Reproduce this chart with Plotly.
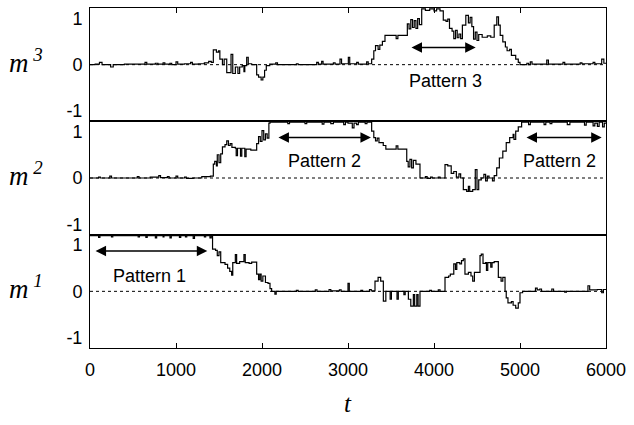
import plotly.graph_objects as go
from plotly.subplots import make_subplots

# ---------------- data ----------------
x_ticks = [0, 1000, 2000, 3000, 4000, 5000, 6000]
y_ticks = [-1, 0, 1]
y_ticklabels = ["-1", "0", "1"]
panel_names = ["m3", "m2", "m1"]
panel_labels = ["<i>m<sup> 3</sup></i>", "<i>m<sup> 2</sup></i>", "<i>m<sup> 1</sup></i>"]

m3_t = [0, 60, 110, 140, 240, 270, 400, 640, 660, 760, 790, 850, 870, 930, 950, 1000, 1020, 1100,
        1170, 1190, 1260, 1330, 1380, 1410, 1434, 1470, 1495, 1510, 1540, 1560, 1590, 1640, 1660,
        1690, 1720, 1740, 1770, 1790, 1800, 1822, 1840, 1880, 1938, 1960, 1990, 2010, 2030, 2050,
        2090, 2160, 2180, 2400, 2420, 2636, 2655, 2694, 2710, 2830, 2850, 2907, 2925, 3004, 3020,
        3101, 3120, 3217, 3235, 3275, 3300, 3320, 3350, 3370, 3400, 3430, 3560, 3580, 3663, 3690,
        3710, 3730, 3750, 3770, 3790, 3810, 3830, 3857, 3900, 3950, 4000, 4030, 4070, 4108, 4140,
        4160, 4180, 4210, 4230, 4250, 4270, 4290, 4310, 4330, 4370, 4400, 4420, 4440, 4460, 4480,
        4500, 4520, 4560, 4620, 4660, 4700, 4730, 4750, 4770, 4800, 4830, 4850, 4880, 4900, 4950,
        4980, 5000, 5080, 5100, 5120, 5140, 5311, 5330, 5500, 5520, 5700, 5720, 5850, 5870, 5950,
        5975, 6000]
m3_v = [0.0, 0.01, 0.05, 0.0, -0.05, 0.0, 0.01, 0.05, 0.01, 0.03, 0.01, 0.04, 0.01, 0.03, 0.0, 0.06, 0.01, 0.02,
        0.05, 0.01, 0.02, 0.04, 0.07, 0.05, 0.32, 0.27, 0.30, 0.12, 0.0, 0.12, -0.17, 0.22, -0.19,
        -0.05, -0.19, -0.05, -0.02, -0.15, -0.02, 0.16, 0.02, 0.0, -0.22, -0.27, -0.33, -0.27, -0.12, -0.02,
        0.01, 0.04, 0.0, 0.02, 0.0, 0.05, 0.01, 0.07, 0.01, 0.04, 0.01, 0.12, 0.02, 0.16, 0.02,
        0.05, 0.01, 0.06, 0.02, 0.12, 0.30, 0.41, 0.33, 0.42, 0.50, 0.63, 0.56, 0.63, 0.63, 0.88,
        0.77, 0.97, 0.80, 0.95, 0.78, 0.99, 0.86, 1.20, 1.17, 1.20, 1.16, 1.20, 1.16, 0.96, 0.93,
        0.98, 0.78, 0.72, 0.56, 0.74, 0.58, 0.66, 0.56, 0.85, 1.06, 0.90, 1.02, 0.82, 0.55, 0.70,
        0.52, 0.65, 0.59, 0.62, 0.59, 0.85, 1.03, 0.85, 0.63, 0.49, 0.38, 0.30, 0.33, 0.20, 0.12,
        0.05, 0.0, 0.03, 0.0, 0.06, 0.01, 0.10, 0.01, 0.05, 0.01, 0.04, 0.02, 0.05, 0.02, 0.12,
        0.03, 0.03]

m2_t = [0, 100, 120, 230, 250, 550, 570, 700, 800, 820, 900, 920, 1000, 1020, 1100, 1120, 1200, 1300,
        1400, 1434, 1450, 1470, 1480, 1500, 1520, 1540, 1570, 1590, 1610, 1630, 1650, 1690, 1700,
        1715, 1750, 1765, 1800, 1815, 1870, 1938, 1960, 1980, 2000, 2020, 2040, 2060, 2080, 2093,
        2300, 2320, 2500, 2520, 2700, 2720, 2800, 2830, 2950, 2970, 3000, 3050, 3070, 3100, 3120,
        3200, 3220, 3275, 3300, 3320, 3340, 3360, 3410, 3440, 3560, 3580, 3683, 3700, 3720, 3740,
        3760, 3790, 3837, 3900, 3920, 3960, 3980, 4050, 4070, 4128, 4160, 4200, 4230, 4260, 4290,
        4310, 4341, 4380, 4400, 4415, 4450, 4480, 4500, 4520, 4550, 4580, 4600, 4620, 4640, 4680,
        4700, 4729, 4760, 4800, 4840, 4880, 4920, 4930, 4950, 4980, 5019, 5100, 5120, 5280, 5300,
        5350, 5370, 5550, 5580, 5750, 5770, 5850, 5870, 5900, 5920, 5960, 5980, 6000]
m2_v = [0.0, 0.02, 0.0, 0.04, 0.0, 0.03, 0.0, 0.02, 0.05, 0.01, 0.03, 0.0, 0.04, 0.0, 0.02, -0.01, 0.0, 0.03,
        0.04, 0.30, 0.36, 0.26, 0.50, 0.33, 0.52, 0.67, 0.72, 0.80, 0.70, 0.74, 0.66, 0.64, 0.48,
        0.64, 0.47, 0.64, 0.46, 0.62, 0.60, 0.74, 0.89, 0.79, 1.02, 0.82, 0.95, 0.86, 1.18, 1.20,
        1.17, 1.20, 1.17, 1.20, 1.16, 1.20, 1.17, 1.20, 1.15, 1.20, 1.18, 1.08, 1.18, 1.15, 1.20,
        1.17, 1.20, 1.01, 0.87, 0.80, 0.86, 0.76, 0.70, 0.62, 0.69, 0.62, 0.36, 0.24, 0.40, 0.22,
        0.38, 0.30, 0.0, 0.03, -0.01, 0.02, 0.0, 0.02, 0.0, 0.29, 0.26, 0.10, 0.14, 0.02, 0.09,
        0.0, -0.25, -0.29, -0.18, -0.29, -0.25, 0.18, -0.25, -0.04, 0.0, 0.08, -0.06, 0.04, 0.0, -0.06,
        0.05, 0.22, 0.43, 0.58, 0.76, 0.87, 0.94, 0.83, 1.01, 1.10, 1.20, 1.15, 1.20, 1.15, 1.20,
        1.17, 1.20, 1.15, 1.20, 1.14, 1.20, 1.12, 1.18, 1.11, 1.20, 1.10, 1.18, 1.18]

m1_t = [0, 100, 115, 250, 265, 560, 575, 650, 665, 760, 775, 850, 860, 930, 945, 1040, 1055, 1110,
        1125, 1200, 1215, 1330, 1345, 1395, 1410, 1425, 1460, 1480, 1500, 1520, 1570, 1600, 1625,
        1647, 1660, 1690, 1705, 1740, 1790, 1805, 1850, 1880, 1938, 1960, 1975, 1990, 2010, 2040,
        2070, 2093, 2112, 2150, 2165, 2400, 2420, 2620, 2640, 2780, 2800, 2900, 2920, 3000, 3015,
        3150, 3170, 3250, 3270, 3314, 3350, 3380, 3411, 3440, 3490, 3505, 3570, 3585, 3650, 3665,
        3702, 3730, 3760, 3775, 3800, 3815, 3837, 3950, 3970, 4050, 4070, 4128, 4170, 4190, 4230,
        4250, 4265, 4300, 4320, 4341, 4360, 4400, 4430, 4450, 4470, 4520, 4535, 4550, 4570, 4600,
        4610, 4625, 4660, 4675, 4700, 4748, 4780, 4800, 4826, 4840, 4860, 4900, 4920, 4950, 4980,
        5000, 5030, 5180, 5200, 5230, 5250, 5370, 5390, 5520, 5540, 5790, 5810, 5900, 5950, 5970,
        6000]
m1_v = [1.20, 1.16, 1.20, 1.17, 1.20, 1.17, 1.20, 1.16, 1.20, 1.15, 1.20, 1.17, 1.20, 1.15, 1.20, 1.16, 1.20, 1.17,
        1.20, 1.14, 1.20, 1.17, 1.20, 1.15, 1.20, 0.91, 0.88, 0.77, 0.85, 0.62, 0.58, 0.50, 0.43,
        0.35, 0.62, 0.79, 0.60, 0.64, 0.79, 0.62, 0.60, 0.63, 0.37, 0.25, 0.37, 0.22, 0.33, 0.19,
        0.17, 0.06, 0.0, -0.06, 0.0, 0.02, 0.0, 0.03, 0.0, 0.04, 0.01, 0.03, 0.0, 0.17, 0.0,
        0.02, 0.0, 0.04, 0.01, 0.22, 0.30, 0.22, -0.21, 0.0, -0.17, 0.0, -0.17, 0.0, -0.07, 0.0,
        -0.17, -0.32, -0.07, -0.32, -0.07, -0.32, 0.0, 0.02, 0.0, 0.03, 0.0, 0.30, 0.33, 0.37, 0.59,
        0.47, 0.62, 0.59, 0.66, 0.70, 0.37, 0.41, 0.33, 0.22, 0.41, 0.41, 0.77, 0.80, 0.60, 0.62,
        0.45, 0.62, 0.52, 0.62, 0.64, 0.30, 0.22, 0.30, 0.0, -0.14, -0.25, -0.22, -0.30, -0.36, -0.25,
        -0.03, 0.0, 0.07, 0.03, 0.05, 0.0, 0.05, 0.0, -0.02, 0.0, 0.12, 0.03, 0.04, -0.03, 0.04,
        0.04]

# pattern annotations
pattern_row = [1, 2, 2, 3]
pattern_text = ["Pattern 3", "Pattern 2", "Pattern 2", "Pattern 1"]
pattern_text_t = [4138, 2721, 5465, 686]
pattern_text_y = [-0.35, 0.37, 0.37, 0.32]
pattern_arrow_t0 = [3721, 2174, 5058, 47]
pattern_arrow_t1 = [4485, 3267, 5950, 1364]
pattern_arrow_y = [0.37, 0.87, 0.87, 0.87]

series_t = [m3_t, m2_t, m1_t]
series_v = [m3_v, m2_v, m1_v]

# ---------------- figure ----------------
SANS = "Liberation Sans, Arial, sans-serif"
SERIF = "Liberation Serif, Times New Roman, serif"
y_range = [-1.22, 1.22]

fig = make_subplots(rows=3, cols=1, shared_xaxes=True, vertical_spacing=0)

for i in range(3):
    fig.add_trace(go.Scatter(x=series_t[i], y=series_v[i], mode="lines", name=panel_names[i],
                             line=dict(color="black", width=1.2, shape="hv"), showlegend=False),
                  row=i + 1, col=1)
    fig.add_hline(y=0, line=dict(color="black", width=1, dash="dot"), row=i + 1, col=1)

domains = [[2 / 3, 1.0], [1 / 3, 2 / 3], [0.0, 1 / 3]]
for i in range(3):
    sfx = "" if i == 0 else str(i + 1)
    fig.layout["yaxis" + sfx].update(
        domain=domains[i], range=y_range, tickvals=y_ticks, ticktext=y_ticklabels,
        ticks="", showline=True, mirror=True, linecolor="black", linewidth=1,
        showgrid=False, zeroline=False, tickfont=dict(family=SANS, size=18, color="black"),
        ticklabelstandoff=3)
    fig.layout["xaxis" + sfx].update(
        range=[0, 6000], tickvals=x_ticks, showline=True, mirror=True, linecolor="black",
        linewidth=1, showgrid=False, zeroline=False,
        tickfont=dict(family=SANS, size=18, color="black"))

fig.layout.xaxis.update(side="top", ticks="inside", ticklen=5, tickcolor="black", showticklabels=False)
fig.layout.xaxis2.update(ticks="", showticklabels=False)
fig.layout.xaxis3.update(ticks="inside", ticklen=5, tickcolor="black", showticklabels=True,
                         ticklabelstandoff=5)

annotations = []
for i in range(3):
    yref = "y" if i == 0 else "y" + str(i + 1)
    annotations.append(dict(text=panel_labels[i], xref="paper", yref=yref, x=-0.087, y=0,
                            xanchor="right", yanchor="middle", showarrow=False, yshift=4,
                            font=dict(family=SERIF, size=27, color="black")))

for k in range(len(pattern_text)):
    r = pattern_row[k]
    xr = "x" if r == 1 else "x" + str(r)
    yr = "y" if r == 1 else "y" + str(r)
    annotations.append(dict(text=pattern_text[k], xref=xr, yref=yr, x=pattern_text_t[k],
                            y=pattern_text_y[k], showarrow=False,
                            font=dict(family=SANS, size=18, color="black")))
    annotations.append(dict(text="", xref=xr, yref=yr, x=pattern_arrow_t1[k], y=pattern_arrow_y[k],
                            axref=xr, ayref=yr, ax=pattern_arrow_t0[k], ay=pattern_arrow_y[k],
                            showarrow=True, arrowhead=2, startarrowhead=2, arrowside="end+start",
                            arrowsize=1.4, startarrowsize=1.4, arrowwidth=1.5, arrowcolor="black",
                            standoff=0, startstandoff=0))

annotations.append(dict(text="<i>t</i>", xref="paper", yref="paper", x=0.5, y=-0.162,
                        xanchor="center", yanchor="middle", showarrow=False,
                        font=dict(family=SERIF, size=25, color="black")))

fig.update_layout(width=634, height=425, margin=dict(l=90, r=28, t=8, b=77),
                  paper_bgcolor="white", plot_bgcolor="white", annotations=annotations,
                  showlegend=False)

fig.write_html("out.html", config={"displayModeBar": False},
               post_script="document.body.style.margin='0';")
